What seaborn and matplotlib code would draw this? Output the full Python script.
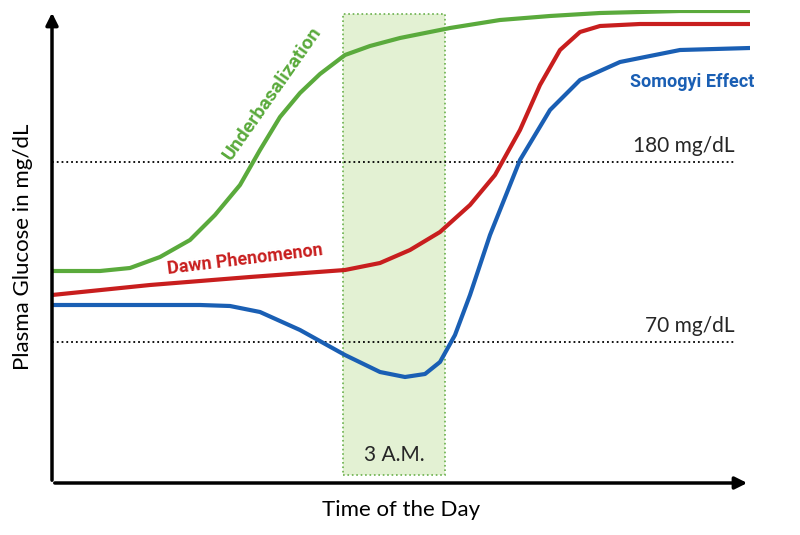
import matplotlib
matplotlib.use("Agg")
import matplotlib.pyplot as plt
import seaborn as sns
from matplotlib.patches import Rectangle

# x positions (time, arbitrary units) and glucose level (arbitrary units, higher = more)
green_x = [52, 100, 130, 160, 190, 215, 240, 260, 280, 300, 320, 345, 370, 400, 450, 500, 550, 600, 680, 750]
green_y = [264, 264, 267, 278, 295, 320, 350, 385, 418, 442, 461, 480, 489, 497, 507, 515, 519, 522, 524, 524]
red_x = [52, 150, 250, 345, 380, 410, 440, 470, 495, 520, 540, 560, 580, 600, 640, 750]
red_y = [240, 250, 258, 265, 272, 285, 303, 330, 360, 405, 450, 485, 503, 509, 511, 511]
blue_x = [52, 200, 230, 260, 300, 345, 380, 405, 425, 440, 455, 470, 490, 520, 550, 580, 620, 680, 750]
blue_y = [230, 230, 229, 223, 205, 180, 163, 158, 161, 173, 200, 240, 300, 375, 425, 455, 473, 485, 487]
thresholds = [180, 70]
threshold_y = [373, 193]

fig = plt.figure(figsize=(8, 5.35), dpi=100)
ax = fig.add_axes([52/800, 52/535, 698/800, 473/535])
sns.set_style("white")
ax.set_xlim(52, 750)
ax.set_ylim(52, 525)

ax.add_patch(Rectangle((343, 60), 102, 461, facecolor="#e3f1d3", edgecolor="#6ab04c",
                       linestyle=":", linewidth=1.2, zorder=0))
for t, yv in zip(thresholds, threshold_y):
    ax.plot([52, 735], [yv, yv], color="black", linestyle=":", linewidth=1.3)
    ax.text(735, yv + 6, f"{t} mg/dL", ha="right", va="bottom", fontsize=15, family="Lato")

sns.lineplot(x=green_x, y=green_y, color="#5aaa3c", linewidth=3, ax=ax)
sns.lineplot(x=red_x, y=red_y, color="#c81e1e", linewidth=3, ax=ax)
sns.lineplot(x=blue_x, y=blue_y, color="#1a5fb4", linewidth=3, ax=ax)

ax.text(272, 442, "Underbasalization", color="#5aaa3c", fontsize=14, fontweight="bold",
        rotation=55, ha="center", va="center", family="Roboto")
ax.text(245, 275, "Dawn Phenomenon", color="#c81e1e", fontsize=13, fontweight="bold",
        rotation=7, ha="center", va="center", family="Roboto")
ax.text(692, 453, "Somogyi Effect", color="#1a5fb4", fontsize=13, fontweight="bold",
        ha="center", va="center", family="Roboto")
ax.text(394, 80, "3 A.M.", fontsize=15, ha="center", va="center", family="Lato")

for s in ax.spines.values():
    s.set_visible(False)
ax.set_xticks([]); ax.set_yticks([])
ax.annotate("", xy=(1.0, 0), xytext=(0, 0), xycoords="axes fraction",
            arrowprops=dict(arrowstyle="-|>", color="black", lw=2.5, mutation_scale=18))
ax.annotate("", xy=(0, 1.0), xytext=(0, 0), xycoords="axes fraction",
            arrowprops=dict(arrowstyle="-|>", color="black", lw=2.5, mutation_scale=18))
ax.set_xlabel("Time of the Day", fontsize=16, family="Lato", labelpad=12)
ax.set_ylabel("Plasma Glucose in mg/dL", fontsize=16, family="Lato", labelpad=14)
fig.savefig("out.png", dpi=100)
